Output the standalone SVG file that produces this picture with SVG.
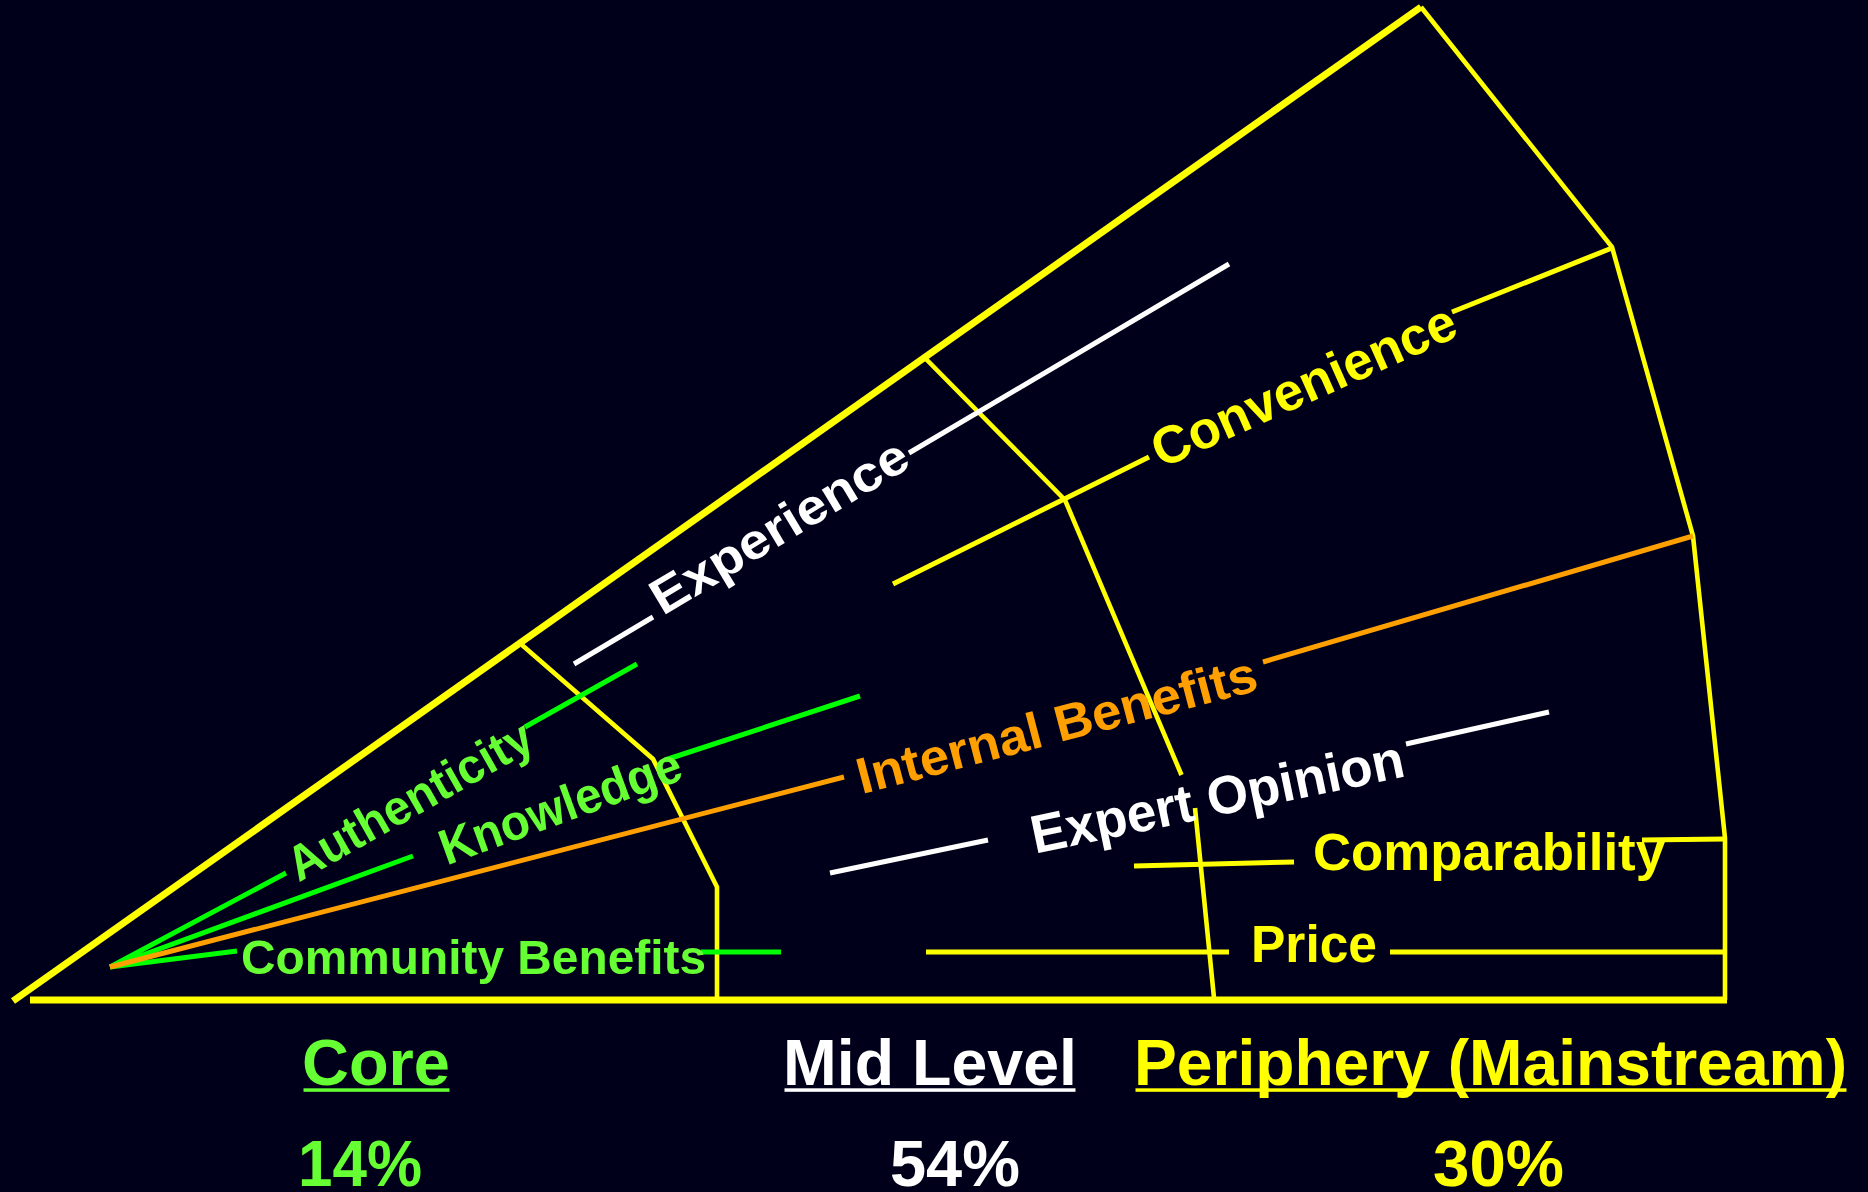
<svg xmlns="http://www.w3.org/2000/svg" width="1868" height="1192" viewBox="0 0 1868 1192">
  <style>
    .bg { fill: #00001a; }
    .frame { fill: none; stroke: #ffff00; stroke-linejoin: miter; }
    .thick { stroke-width: 7; }
    .thin { stroke-width: 4.6; }
    .ln { fill: none; stroke-width: 5; stroke-linecap: butt; }
    .yel { stroke: #ffff00; }
    .grn { stroke: #00ff00; }
    .org { stroke: #ffa000; }
    .wht { stroke: #ffffff; }
    text { font-family: "Liberation Sans", Arial, Helvetica, sans-serif; font-weight: bold; }
    .lbl { font-size: 49px; }
    .hdr { font-size: 65px; }
    .tGrn { fill: #66ff33; }
    .tYel { fill: #ffff00; }
    .tOrg { fill: #ffa000; }
    .tWht { fill: #ffffff; }
  </style>

  <rect class="bg" x="0" y="0" width="1868" height="1192"/>

  <!-- Outer wedge and segment boundaries -->
  <g id="frame">
    <line class="frame thick" x1="13" y1="1001" x2="1421" y2="7"/>
    <line class="frame thick" x1="30" y1="1000" x2="1727" y2="1000"/>
    <polyline class="frame thin" points="1421,7 1612,247 1693,536 1725,838 1725,1000"/>
    <!-- core / mid boundary -->
    <polyline class="frame thin" points="522,645 653,759 717,887 717,1000"/>
    <!-- mid / periphery boundary -->
    <polyline class="frame thin" points="925,358 1065,500 1181.5,775"/>
    <line class="frame thin" x1="1195" y1="808" x2="1214" y2="998"/>
  </g>

  <!-- Attribute rays -->
  <g id="connectors">
    <!-- Authenticity -->
    <line class="ln grn" x1="110" y1="967" x2="286" y2="873"/>
    <line class="ln grn" x1="525" y1="727" x2="637" y2="664"/>
    <!-- Knowledge -->
    <line class="ln grn" x1="110" y1="967" x2="413" y2="856"/>
    <line class="ln grn" x1="665" y1="760" x2="860" y2="696"/>
    <!-- Community Benefits -->
    <line class="ln grn" x1="110" y1="967" x2="237" y2="951"/>
    <line class="ln grn" x1="701" y1="952" x2="781" y2="952"/>
    <!-- Internal Benefits -->
    <line class="ln org" x1="110" y1="967" x2="844" y2="777"/>
    <line class="ln org" x1="1263" y1="662" x2="1693" y2="536"/>
    <!-- Experience -->
    <line class="ln wht" x1="574" y1="664" x2="653" y2="617"/>
    <line class="ln wht" x1="909" y1="453" x2="1229" y2="264"/>
    <!-- Convenience -->
    <line class="ln yel" x1="893" y1="584" x2="1149" y2="457"/>
    <line class="ln yel" x1="1452" y1="312" x2="1612" y2="248"/>
    <!-- Expert Opinion -->
    <line class="ln wht" x1="830" y1="873" x2="988" y2="840"/>
    <line class="ln wht" x1="1406" y1="744" x2="1549" y2="712"/>
    <!-- Comparability -->
    <line class="ln yel" x1="1134" y1="866" x2="1294" y2="862"/>
    <line class="ln yel" x1="1642" y1="840" x2="1725" y2="839"/>
    <!-- Price -->
    <line class="ln yel" x1="926" y1="952" x2="1229" y2="952"/>
    <line class="ln yel" x1="1390" y1="952" x2="1725" y2="952"/>
  </g>

  <!-- Attribute labels -->
  <g id="authenticity">
    <text class="lbl tGrn" text-anchor="middle" textLength="274" lengthAdjust="spacingAndGlyphs" transform="translate(418,815) rotate(-29.5)">Authenticity</text>
  </g>
  <g id="knowledge">
    <text class="lbl tGrn" style="font-size:50px" text-anchor="middle" textLength="254" lengthAdjust="spacingAndGlyphs" transform="translate(566,822) rotate(-20)">Knowledge</text>
  </g>
  <g id="community-benefits">
    <text class="lbl tGrn" x="241" y="974" textLength="465" lengthAdjust="spacingAndGlyphs">Community Benefits</text>
  </g>
  <g id="internal-benefits">
    <text class="lbl tOrg" style="font-size:51px" text-anchor="middle" textLength="412" lengthAdjust="spacingAndGlyphs" transform="translate(1061,742) rotate(-14.7)">Internal Benefits</text>
  </g>
  <g id="experience">
    <text class="lbl tWht" style="font-size:50px" text-anchor="middle" textLength="292" lengthAdjust="spacingAndGlyphs" transform="translate(788,541) rotate(-31)">Experience</text>
  </g>
  <g id="convenience">
    <text class="lbl tYel" style="font-size:53px" text-anchor="middle" textLength="328" lengthAdjust="spacingAndGlyphs" transform="translate(1311,402) rotate(-24)">Convenience</text>
  </g>
  <g id="expert-opinion">
    <text class="lbl tWht" style="font-size:54px" text-anchor="middle" textLength="380" lengthAdjust="spacingAndGlyphs" transform="translate(1221,815) rotate(-11.8)">Expert Opinion</text>
  </g>
  <g id="comparability">
    <text class="lbl tYel" style="font-size:51px" x="1313" y="870" textLength="352" lengthAdjust="spacingAndGlyphs">Comparability</text>
  </g>
  <g id="price">
    <text class="lbl tYel" style="font-size:51px" x="1251" y="962" textLength="126" lengthAdjust="spacingAndGlyphs">Price</text>
  </g>

  <!-- Segment headings and shares -->
  <g id="core">
    <text class="hdr tGrn" x="302" y="1085" textLength="148" lengthAdjust="spacingAndGlyphs">Core</text>
    <rect x="303.5" y="1088.3" width="146" height="3.5" fill="#66ff33"/>
    <text class="hdr tGrn" x="298" y="1186" textLength="124" lengthAdjust="spacingAndGlyphs">14%</text>
  </g>
  <g id="mid-level">
    <text class="hdr tWht" x="783" y="1085" textLength="294" lengthAdjust="spacingAndGlyphs">Mid Level</text>
    <rect x="784.5" y="1088.3" width="291" height="3.5" fill="#ffffff"/>
    <text class="hdr tWht" x="890" y="1186" textLength="130" lengthAdjust="spacingAndGlyphs">54%</text>
  </g>
  <g id="periphery">
    <text class="hdr tYel" x="1134" y="1085" textLength="713" lengthAdjust="spacingAndGlyphs">Periphery (Mainstream)</text>
    <rect x="1135.5" y="1088.3" width="711" height="3.5" fill="#ffff00"/>
    <text class="hdr tYel" x="1433" y="1186" textLength="131" lengthAdjust="spacingAndGlyphs">30%</text>
  </g>
</svg>
